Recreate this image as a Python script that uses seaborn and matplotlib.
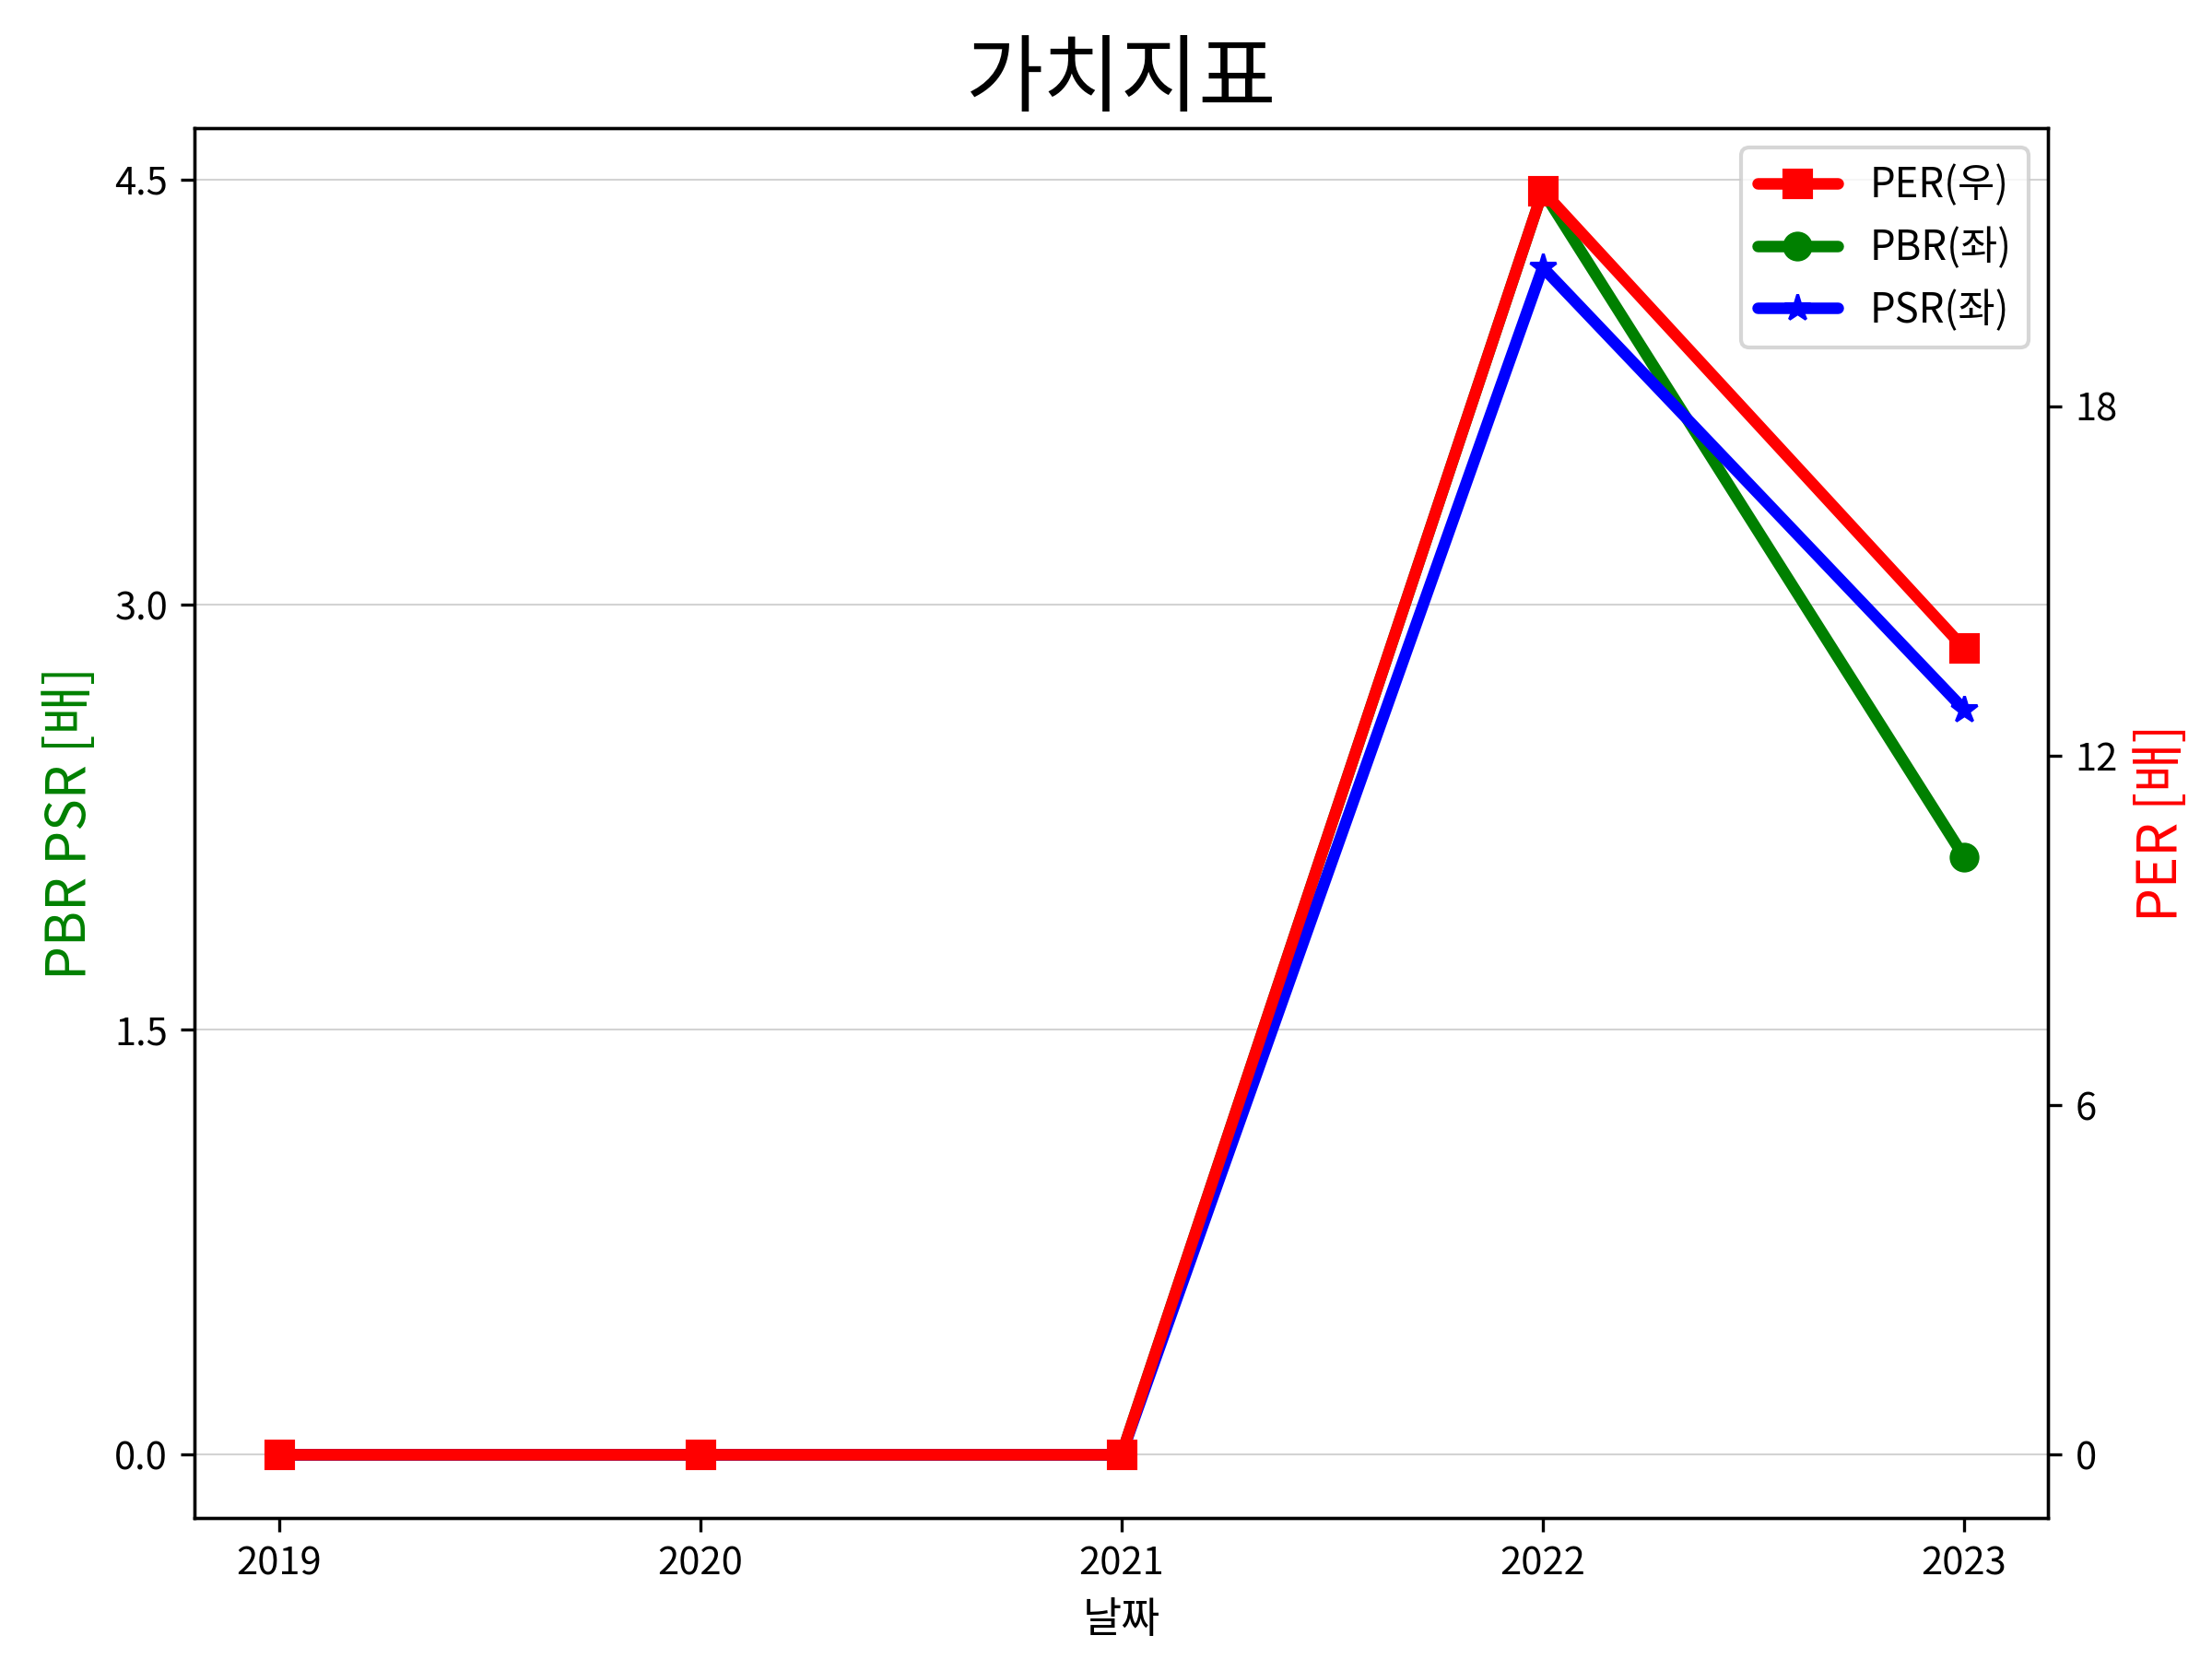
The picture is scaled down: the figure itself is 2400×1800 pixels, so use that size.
import numpy as np
import matplotlib
matplotlib.use("Agg")
import matplotlib.pyplot as plt
import seaborn as sns

# data
years = [2019, 2020, 2021, 2022, 2023]
per = [0.0, 0.0, 0.0, 21.7, 13.85]
pbr = [0.0, 0.0, 0.0, 4.46, 2.11]
psr = [0.0, 0.0, 0.0, 4.19, 2.63]

sns.set_style("ticks", {'text.color': 'black', 'axes.labelcolor': 'black',
                        'xtick.color': 'black', 'ytick.color': 'black',
                        'axes.edgecolor': 'black'})
plt.rcParams['font.family'] = ['Noto Sans CJK KR', 'DejaVu Sans']
plt.rcParams['axes.unicode_minus'] = False

fig, ax = plt.subplots(figsize=(8, 6), dpi=300)
ax2 = ax.twinx()

sns.lineplot(x=years, y=pbr, ax=ax, color='green', marker='o', markersize=7,
             markeredgecolor='green', linewidth=3, label='PBR(좌)', legend=False)
sns.lineplot(x=years, y=psr, ax=ax, color='blue', marker='*', markersize=7,
             markeredgecolor='blue', linewidth=3, label='PSR(좌)', legend=False)
sns.lineplot(x=years, y=per, ax=ax2, color='red', marker='s', markersize=7,
             markeredgecolor='red', linewidth=3, label='PER(우)', legend=False)

ax.set_yticks([0.0, 1.5, 3.0, 4.5])
ax2.set_yticks([0, 6, 12, 18])
ax.set_xticks(years)
ax.yaxis.grid(True, color='#d3d3d3', linewidth=0.5)
ax.xaxis.grid(False)

ax.set_xlabel('날짜', fontsize=11)
ax.set_ylabel('PBR PSR [배]', color='green', fontsize=14)
ax2.set_ylabel('PER [배]', color='red', fontsize=14)
ax.set_title('가치지표', fontsize=22, color='black')

for a in (ax, ax2):
    a.tick_params(labelsize=10, colors='black')
    for s in a.spines.values():
        s.set_visible(True)
        s.set_color('black')

h1, l1 = ax.get_legend_handles_labels()
h2, l2 = ax2.get_legend_handles_labels()
ax2.legend(h2 + h1, l2 + l1, loc='upper right', fontsize=10.5)

fig.subplots_adjust(left=0.088, right=0.926, top=0.923, bottom=0.085)
fig.savefig('out.png', dpi=300)
